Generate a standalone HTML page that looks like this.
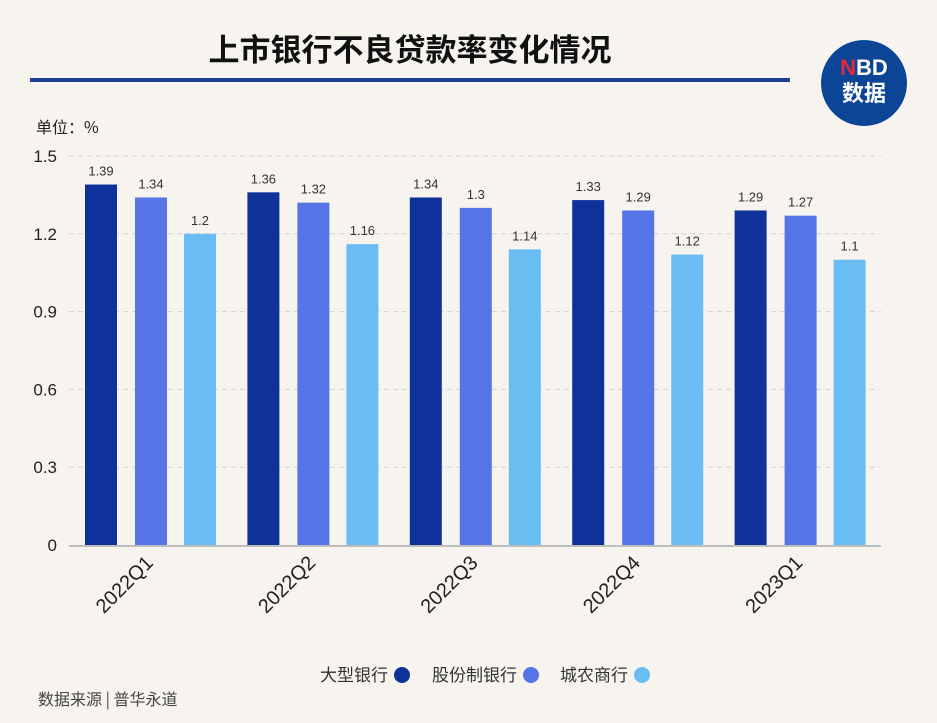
<!DOCTYPE html>
<html><head><meta charset="utf-8">
<style>
body{margin:0;background:#f7f4f0;font-family:"Liberation Sans","Noto Sans CJK SC",sans-serif;}
#wrap{position:relative;width:937px;height:723px;overflow:hidden;background:#f7f4f0;}
</style></head>
<body>
<div id="wrap">
<svg id="svg" width="937" height="723" xmlns="http://www.w3.org/2000/svg">
  <text x="410" y="61" text-anchor="middle" font-size="31" font-weight="bold" fill="#111" font-family="Liberation Sans,Noto Sans CJK SC,sans-serif">上市银行不良贷款率变化情况</text>
  <rect x="30" y="78" width="760" height="4" fill="#1a3f94"/>
  <g>
    <circle cx="864" cy="83" r="43" fill="#0d4596"/>
    <text x="864" y="75" text-anchor="middle" font-size="22" font-weight="bold" fill="#fff" font-family="Liberation Sans,sans-serif"><tspan fill="#e8283a">N</tspan>BD</text>
    <text x="864" y="101" text-anchor="middle" font-size="22" font-weight="bold" fill="#fff" font-family="Noto Sans CJK SC,sans-serif">数据</text>
  </g>
  <text x="36" y="133" font-size="16" fill="#222" font-family="Noto Sans CJK SC,sans-serif">单位：%</text>
  <g id="grid"></g>
  <g id="bars"></g>
  <g id="legend">
    <text x="388" y="681" text-anchor="end" font-size="17" fill="#333" font-family="Noto Sans CJK SC,sans-serif">大型银行</text>
    <circle cx="402" cy="675" r="8" fill="#0e3299"/>
    <text x="517" y="681" text-anchor="end" font-size="17" fill="#333" font-family="Noto Sans CJK SC,sans-serif">股份制银行</text>
    <circle cx="531" cy="675" r="8" fill="#5574e6"/>
    <text x="628" y="681" text-anchor="end" font-size="17" fill="#333" font-family="Noto Sans CJK SC,sans-serif">城农商行</text>
    <circle cx="642" cy="675" r="8" fill="#69bdf3"/>
  </g>
  <text x="38" y="705" font-size="16" fill="#444" font-family="Noto Sans CJK SC,sans-serif">数据来源 | 普华永道</text>
</svg>
</div>
<script>
const categories=["2022Q1","2022Q2","2022Q3","2022Q4","2023Q1"];
const largeBanks=[1.39,1.36,1.34,1.33,1.29];
const jointBanks=[1.34,1.32,1.3,1.29,1.27];
const cityBanks=[1.2,1.16,1.14,1.12,1.1];
const yTicks=[0,0.3,0.6,0.9,1.2,1.5];
const seriesList=[largeBanks,jointBanks,cityBanks];
const seriesNames=["large","joint","city"];
const colors=["#0e3299","#5574e6","#69bdf3"];
const NS="http://www.w3.org/2000/svg";
const x0=69,x1=881,y0=545,yTop=156,ymax=1.5;
function yScale(v){return y0-(v/ymax)*(y0-yTop);}
const gw=(x1-x0)/categories.length;
function xGroup(i){return x0+gw*i;}
function mk(t,a){const e=document.createElementNS(NS,t);for(const k in a)e.setAttribute(k,a[k]);return e;}
const grid=document.getElementById('grid'),bars=document.getElementById('bars');
yTicks.forEach(t=>{
  const y=yScale(t);
  if(t>0){const l=mk('line',{x1:x0,x2:x1,y1:y,y2:y,stroke:'#d4d0cc','stroke-dasharray':'5,4'});
  
  grid.appendChild(l);}
  const tx=mk('text',{x:57,y:y+6,'text-anchor':'end','font-size':17,fill:'#222'});
  tx.textContent=String(t);
  
  grid.appendChild(tx);
});
const axis=mk('line',{x1:x0,x2:x1,y1:y0+1,y2:y0+1,stroke:'#bdbdbd','stroke-width':2});

grid.appendChild(axis);
const offs=[32,82,131],bw=32;
categories.forEach((c,i)=>{
  seriesList.forEach((s,j)=>{
    const cx=xGroup(i)+offs[j];const y=yScale(s[i]);
    const r=mk('rect',{x:cx-bw/2,y:y,width:bw,height:y0-y,fill:colors[j]});
    
    bars.appendChild(r);
    const t=mk('text',{x:cx,y:y-9,'text-anchor':'middle','font-size':13,fill:'#333'});
    t.textContent=String(s[i]);
    
    bars.appendChild(t);
  });
  const lx=xGroup(i)+gw/2+4,ly=564;
  const lt=mk('text',{x:lx,y:ly,'text-anchor':'end','font-size':20,fill:'#222',transform:'rotate(-45 '+lx+' '+ly+')'});
  lt.textContent=c;
  
  bars.appendChild(lt);
});
</script>
</body></html>
